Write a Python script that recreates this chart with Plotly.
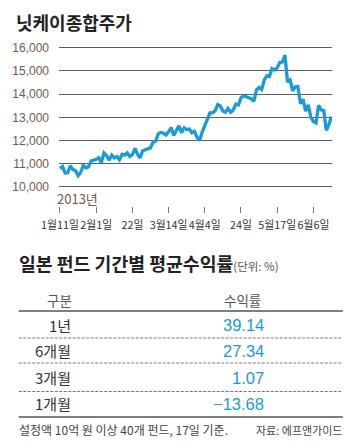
import plotly.graph_objects as go

# ---- data ----
nikkei = [10801, 10879, 10600, 10610, 10913, 10748, 10710, 10487, 10621, 10927,
          10824, 10867, 11114, 11139, 11191, 11260, 11047, 11464, 11357, 11153,
          11369, 11251, 11307, 11174, 11408, 11372, 11468, 11309, 11386, 11663,
          11399, 11254, 11559, 11606, 11652, 11683, 11932, 11968, 12284, 12349,
          12315, 12240, 12381, 12561, 12221, 12468, 12636, 12339, 12546, 12472,
          12494, 12336, 12398, 12135, 12003, 12362, 12635, 12834, 13193, 13192,
          13288, 13549, 13485, 13276, 13221, 13383, 13220, 13316, 13568, 13530,
          13843, 13926, 13884, 13861, 13799, 13694, 14180, 14286, 14191, 14608,
          14782, 14758, 15096, 15037, 15138, 15361, 15381, 15680, 14520, 14612,
          14143, 14312, 14326, 13589, 13775, 13262, 13534, 13015, 12820, 12760,
          13514, 13318, 13289, 12445, 12687, 13033]
day_index = list(range(len(nikkei)))
tick_index = [0, 14, 28, 42, 56, 70, 84, 98]
tick_labels = ["1월11일", "2월1일", "22일", "3월14일", "4월4일", "24일", "5월17일", "6월6일"]
y_ticks = [10000, 11000, 12000, 13000, 14000, 15000, 16000]

periods = ["1년", "6개월", "3개월", "1개월"]
returns = [39.14, 27.34, 1.07, -13.68]

# ---- layout geometry (pixels) ----
W, H = 349, 448
L, R, T, B = 54, 332, 40, 206


def px(x):
    return (x - L) / (R - L)


def py(y):
    return (B - y) / (B - T)


BLUE = "#1a9ad6"
TICKC = "#6b5b50"
KR = "Noto Sans CJK KR"
NARROW = "Liberation Sans Narrow, " + KR

fig = go.Figure()
fig.add_trace(go.Scatter(x=day_index, y=nikkei, mode="lines",
                         line=dict(color=BLUE, width=3.3), hoverinfo="skip"))

fig.update_layout(
    width=W, height=H,
    margin=dict(l=L, r=W - R, t=T, b=H - B),
    paper_bgcolor="white", plot_bgcolor="white",
    showlegend=False,
    xaxis=dict(range=[-0.38, 105.2], tickvals=tick_index, ticktext=tick_labels,
               ticks="outside", ticklen=6, tickcolor="#777", tickwidth=1,
               tickangle=0, ticklabelstandoff=3,
               showgrid=False, zeroline=False, showline=False,
               tickfont=dict(family=NARROW, size=10.8, color="#333")),
    yaxis=dict(range=[9180, 16330], tickvals=y_ticks,
               ticktext=[f"{v:,}" for v in y_ticks],
               showgrid=True, gridcolor="#5e5e5e", gridwidth=1,
               zeroline=False, showline=False, ticklabelstandoff=9,
               tickfont=dict(family="Liberation Sans", size=12, color=TICKC)),
)

ann = []
shapes = []


def text(x, y, s, size, color="#333", anchor="left", family=KR, bold=False):
    ann.append(dict(x=px(x), y=py(y), xref="paper", yref="paper", text=(f"<b>{s}</b>" if bold else s),
                    showarrow=False, xanchor=anchor, yanchor="middle",
                    font=dict(family=family, size=size, color=color)))


# titles
text(8, 22, "닛케이종합주가", 18, "#222", bold=True)
text(50, 198, "2013년", 13, TICKC, family=NARROW)

ann.append(dict(x=px(11), y=py(263), xref="paper", yref="paper", showarrow=False,
                xanchor="left", yanchor="middle",
                text="<b>일본 펀드 기간별 평균수익률</b><span style='font-size:11.5px;color:#555'>(단위: %)</span>",
                font=dict(family=KR, size=18.3, color="#222")))

# table header
text(54, 300, "구분", 13.5, "#555", anchor="center")
text(241, 300, "수익률", 13.5, "#555", anchor="center")

row_y = [325, 350.5, 377.5, 404]
for p, v, yy in zip(periods, returns, row_y):
    text(68, yy, p, 15, "#333", anchor="right")
    s = f"{v:.2f}".replace("-", "\u2212")
    text(265, yy, s, 16.5, BLUE, anchor="right", family="Liberation Sans")


def hline(y, dash=None, color="#555", width=1.5):
    shapes.append(dict(type="line", xref="paper", yref="paper",
                       x0=px(13), x1=px(343), y0=py(y), y1=py(y),
                       line=dict(color=color, width=width, dash=dash or "solid")))


hline(311, width=1.6)
for yy in [338, 363, 391.5]:
    hline(yy, dash="3px,1.5px", color="#777", width=1)
hline(417, width=1.6)

text(11, 429.5, "설정액 10억 원 이상 40개 펀드, 17일 기준.", 12, "#444")
text(344, 429.5, "자료: 에프앤가이드", 11, "#444", anchor="right")

fig.update_layout(annotations=ann, shapes=shapes)
fig.write_html("out.html")
